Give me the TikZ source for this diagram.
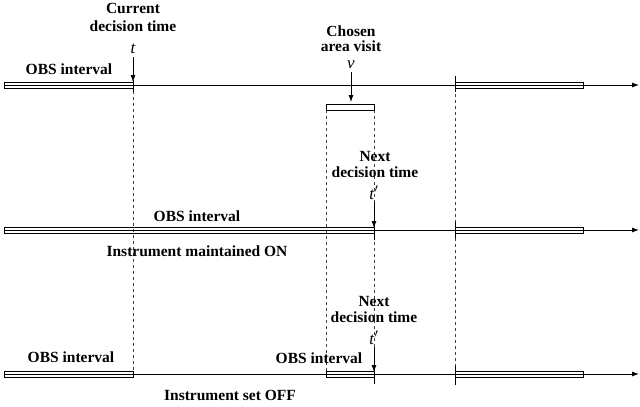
\documentclass[tikz,border=0pt]{standalone}
\usepackage{fontspec}
\setmainfont{Liberation Serif}
\usetikzlibrary{arrows.meta}
\tikzset{
  lbl/.style={font=\fontsize{15.5}{16}\selectfont\bfseries, anchor=base, inner sep=0pt},
  var/.style={font=\fontsize{17}{17}\selectfont\itshape, anchor=base, inner sep=0pt},
  timeline/.style={line width=0.9pt, -{Latex[length=7pt,width=5pt]}},
  bar/.style={draw, line width=0.9pt},
  guide/.style={dash pattern=on 3pt off 3pt, line width=0.8pt, black!75},
  tick/.style={line width=0.9pt},
  pointer/.style={line width=0.8pt, -{Latex[length=7pt,width=5pt]}}
}
\begin{document}
\begin{tikzpicture}[x=1pt,y=-1pt]
\useasboundingbox (0,0) rectangle (640,407);

% ---------- guides (dashed verticals) ----------
\draw[guide] (133,85) -- (133,374);
\draw[guide] (326,110) -- (326,374);
\draw[guide] (374,110) -- (374,374);
\draw[guide] (455,76) -- (455,385);

% ---------- timeline 1 ----------
\coordinate (A1) at (4,85);
\coordinate (B1) at (639,85);
\draw[timeline] (A1) -- (B1);
\draw[bar] (4,82) rectangle (133,88);
\draw[bar] (455,82) rectangle (583,88);
\draw[tick] (133,80) -- (133,92);
\draw[tick] (455,76) -- (455,92);
\draw[bar, fill=white] (326,104) rectangle (374,110);

% ---------- timeline 2 ----------
\coordinate (A2) at (4,230);
\coordinate (B2) at (639,230);
\draw[timeline] (A2) -- (B2);
\draw[bar] (4,227) rectangle (374,233);
\draw[bar] (455,227) rectangle (583,233);
\draw[tick] (374,222) -- (374,240);
\draw[tick] (455,222) -- (455,238);

% ---------- timeline 3 ----------
\coordinate (A3) at (4,374);
\coordinate (B3) at (639,374);
\draw[timeline] (A3) -- (B3);
\draw[bar] (4,371) rectangle (133,377);
\draw[bar] (326,371) rectangle (374,377);
\draw[bar] (455,371) rectangle (583,377);
\draw[tick] (374,366) -- (374,384);
\draw[tick] (455,366) -- (455,385);

% ---------- labels, line 1 ----------
\node[lbl] (cur1) at (133,13) {Current};
\node[lbl] (cur2) at (133,31) {decision time};
\node[var] (t) at (133,53) {t};
\coordinate (tT) at (133,82);
\draw[pointer] (133,57) -- (tT);
\node[lbl] (obs1) at (69,74) {OBS interval};

\node[lbl] (ch1) at (351,36) {Chosen};
\node[lbl] (ch2) at (351,51) {area visit};
\node[var] (v) at (351,68) {v};
\coordinate (vT) at (351,102);
\draw[pointer] (351,72) -- (vT);

% ---------- labels, line 2 ----------
\node[lbl] (nx1) at (375,161) {Next};
\node[lbl] (nx2) at (375,177) {decision time};
\node[var] (tp1) at (374,199) {t\kern0.5pt$'$};
\coordinate (tp1T) at (374,228);
\draw[pointer] (374,202) -- (tp1T);
\node[lbl] (obs2) at (197,221) {OBS interval};
\node[lbl] (on) at (197,256) {Instrument maintained ON};

% ---------- labels, line 3 ----------
\node[lbl] (nx3) at (374,306) {Next};
\node[lbl] (nx4) at (374,322) {decision time};
\node[var] (tp2) at (374,344) {t\kern0.5pt$'$};
\coordinate (tp2T) at (374,372);
\draw[pointer] (374,347) -- (tp2T);
\node[lbl] (obs3) at (71,362) {OBS interval};
\node[lbl] (obs4) at (319,363) {OBS interval};
\node[lbl] (off) at (230,400) {Instrument set OFF};
\end{tikzpicture}
\end{document}
